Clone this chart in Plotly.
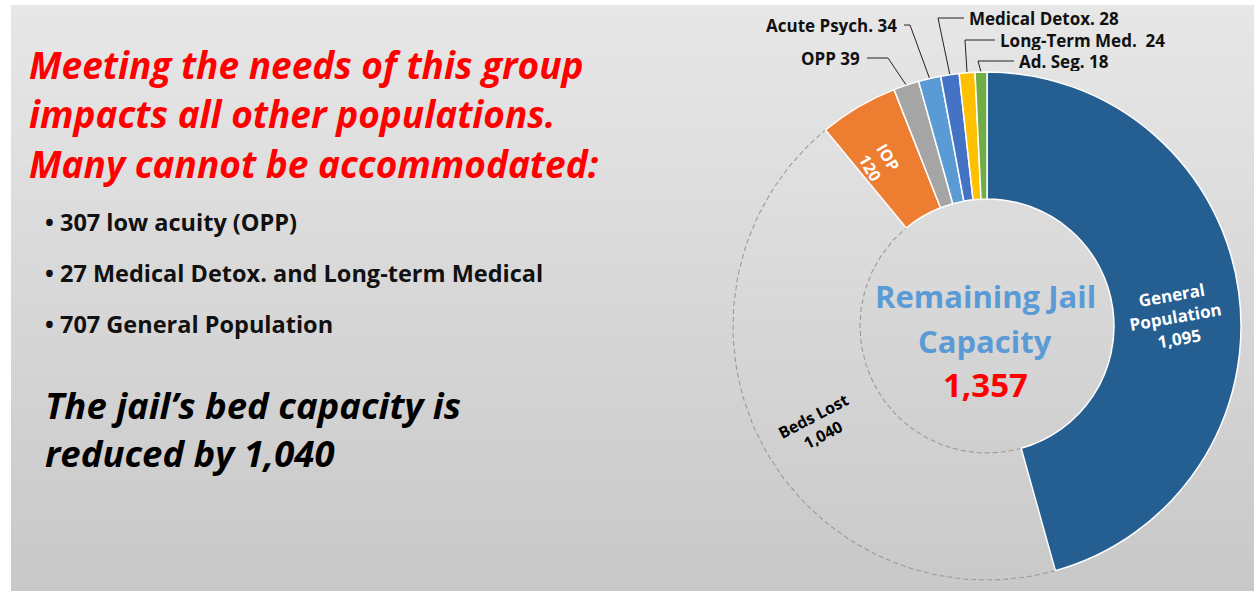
import math
import plotly.graph_objects as go

# ---------------- data ----------------
categories = ["General Population", "Beds Lost", "IOP", "OPP", "Acute Psych.",
              "Medical Detox.", "Long-Term Med.", "Ad. Seg."]
beds = [1095, 1040, 120, 39, 34, 28, 24, 18]
slice_colors = ["#255e91", "rgba(255,255,255,0.03)", "#ed7d31", "#a5a5a5",
                "#5b9bd5", "#4472c4", "#ffc000", "#70ad47"]
remaining_capacity = 1357
headline = ["Meeting the needs of this group",
            "impacts all other populations.",
            "Many cannot be accommodated:"]
bullets = ["307 low acuity (OPP)",
           "27 Medical Detox. and Long-term Medical",
           "707 General Population"]
conclusion = ["The jail\u2019s bed capacity is", "reduced by 1,040"]

# ---------------- layout constants (pixels) ----------------
W, H = 1254, 591
CX, CY, R = 987, 326, 254
HOLE = 0.5
r_in = R * HOLE
FONT = "Open Sans"

total = sum(beds)
starts, mids, ends = [], [], []
acc = 0
for v in beds:
    starts.append(acc / total * 360)
    mids.append((acc + v / 2) / total * 360)
    acc += v
    ends.append(acc / total * 360)


def pt(angle_deg, rad):
    a = math.radians(angle_deg)
    return CX + rad * math.sin(a), CY - rad * math.cos(a)


def radial_angle(a):
    t = a - 90
    while t > 90:
        t -= 180
    while t < -90:
        t += 180
    return t


def fmt(v):
    return f"{v:,}"

fig = go.Figure()

# background gradient panel
shapes = []
n_band = 60
y0, y1 = 5, H
for k in range(n_band):
    t = k / (n_band - 1)
    g = round(231 - 31 * t)
    ya = y0 + (y1 - y0) * k / n_band
    yb = y0 + (y1 - y0) * (k + 1) / n_band + 0.6
    shapes.append(dict(type="rect", xref="x", yref="y", x0=11, x1=W, y0=ya, y1=yb,
                       fillcolor=f"rgb({g},{g},{g})", line=dict(width=0), layer="below"))

# dashed outline of the "Beds Lost" slice (from data angles)
i = 1
outline_x, outline_y = [], []
steps = 90
for s in range(steps + 1):
    a = starts[i] + (ends[i] - starts[i]) * s / steps
    x, y = pt(a, R)
    outline_x.append(x); outline_y.append(y)
for s in range(steps + 1):
    a = ends[i] - (ends[i] - starts[i]) * s / steps
    x, y = pt(a, r_in)
    outline_x.append(x); outline_y.append(y)
outline_x.append(outline_x[0]); outline_y.append(outline_y[0])
fig.add_trace(go.Scatter(x=outline_x, y=outline_y, mode="lines",
                         line=dict(color="#999999", width=1.1, dash="5px,3px"),
                         hoverinfo="skip", showlegend=False))

# donut
line_colors = ["white"] * len(beds)
line_colors[1] = "rgba(0,0,0,0)"
fig.add_trace(go.Pie(
    labels=categories, values=beds, sort=False, direction="clockwise", rotation=0,
    hole=HOLE,
    marker=dict(colors=slice_colors, line=dict(color=line_colors, width=1.5)),
    textinfo="none",
    domain=dict(x=[(CX - R) / W, (CX + R) / W],
                y=[(H - CY - R) / H, (H - CY + R) / H]),
    showlegend=False, hoverinfo="label+value",
))

annotations = []

# inside labels (radial) : text, colour, size, radius, angle nudge, text-angle nudge
inside = {
    0: (categories[0].replace(" ", "<br>") + "<br>" + fmt(beds[0]), "white", 17, 189, 5, -2),
    1: (categories[1] + "<br>" + fmt(beds[1]), "black", 16, 196, -3, 0),
    2: (categories[2] + "<br>" + fmt(beds[2]), "white", 16, 196, -3, 0),
}
for idx, (txt, col, sz, rho, da, dt) in inside.items():
    x, y = pt(mids[idx] + da, rho)
    annotations.append(dict(x=x, y=y, xref="x", yref="y", text=f"<b>{txt}</b>",
                            showarrow=False, textangle=radial_angle(mids[idx]) + dt,
                            font=dict(family=FONT, size=sz, color=col)))

# outside labels with leader lines
callouts = {
    3: (862, 58, "right", 888),
    4: (899, 25, "right", 910),
    5: (967, 18, "left", 938),
    6: (998, 40, "left", 965),
    7: (1017, 61, "left", 978),
}
for idx, (lx, ly, xa, ex) in callouts.items():
    sep = "  " if idx == 6 else " "
    txt = f"{categories[idx]}{sep}{beds[idx]}"
    annotations.append(dict(x=lx, y=ly, xref="x", yref="y", text=f"<b>{txt}</b>",
                            showarrow=False, xanchor=xa, yanchor="middle", height=19,
                            font=dict(family=FONT, size=17, color="#111")))
    px, py = pt(mids[idx], R)
    start_x = lx + (5 if xa == "right" else -3)
    fig.add_trace(go.Scatter(x=[start_x, ex, px], y=[ly, ly, py], mode="lines",
                             line=dict(color="#222", width=1), hoverinfo="skip",
                             showlegend=False))

# centre text
annotations.append(dict(x=CX - 2, y=296, xref="x", yref="y", text="<b>Remaining Jail</b>",
                        showarrow=False, font=dict(family=FONT, size=31, color="#5b9bd5")))
annotations.append(dict(x=CX - 2, y=341, xref="x", yref="y", text="<b>Capacity</b>",
                        showarrow=False, font=dict(family=FONT, size=31, color="#5b9bd5")))
annotations.append(dict(x=CX - 2, y=384, xref="x", yref="y", text=f"<b>{fmt(remaining_capacity)}</b>",
                        showarrow=False, font=dict(family=FONT, size=33, color="#ff0000")))

# left text block
for k, line in enumerate(headline):
    annotations.append(dict(x=27, y=64 + k * 49.5, xref="x", yref="y", text=f"<b><i>{line}</i></b>",
                            showarrow=False, xanchor="left", yanchor="middle",
                            font=dict(family=FONT, size=37, color="#ff0000")))
for k, line in enumerate(bullets):
    annotations.append(dict(x=43, y=222 + k * 51, xref="x", yref="y", text=f"<b>\u2022 {line}</b>",
                            showarrow=False, xanchor="left", yanchor="middle",
                            font=dict(family=FONT, size=23.5, color="#111")))
for k, line in enumerate(conclusion):
    annotations.append(dict(x=43, y=405 + k * 48, xref="x", yref="y", text=f"<b><i>{line}</i></b>",
                            showarrow=False, xanchor="left", yanchor="middle",
                            font=dict(family=FONT, size=36.5, color="#000")))

fig.update_layout(
    width=W, height=H, margin=dict(l=0, r=0, t=0, b=0),
    paper_bgcolor="white", plot_bgcolor="rgba(0,0,0,0)",
    xaxis=dict(range=[0, W], visible=False, fixedrange=True, domain=[0, 1]),
    yaxis=dict(range=[H, 0], visible=False, fixedrange=True, domain=[0, 1]),
    shapes=shapes, annotations=annotations, showlegend=False,
)

fig.write_html("out.html", config={"displayModeBar": False},
               post_script="document.body.style.margin='0';document.body.style.overflow='hidden';")
